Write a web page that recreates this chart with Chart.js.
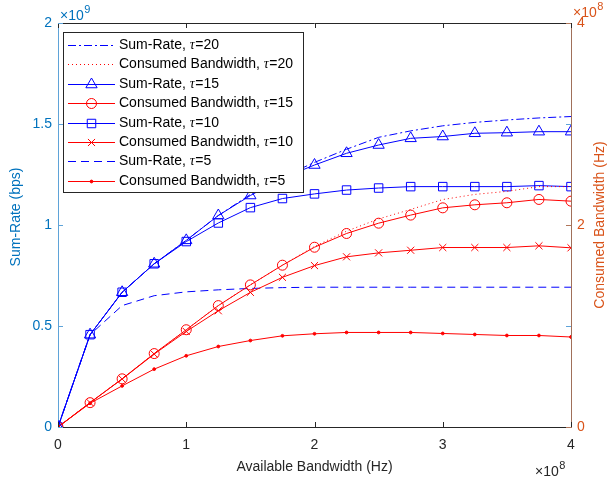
<!DOCTYPE html>
<html>
<head>
<meta charset="utf-8">
<script src="https://cdn.jsdelivr.net/npm/chart.js@4.4.0/dist/chart.umd.min.js"></script>
<style>
  html, body { margin: 0; padding: 0; background: #fff; }
  #c { display: block; }
</style>
</head>
<body>
<canvas id="c" width="611" height="483"></canvas>
<script>
// Available bandwidth in units of 1e8 Hz
const bandwidth = [0, 0.25, 0.5, 0.75, 1, 1.25, 1.5, 1.75, 2, 2.25, 2.5, 2.75, 3, 3.25, 3.5, 3.75, 4];

// Sum-rate in units of 1e9 bps (left axis)
const sumRate20 = [0, 0.457, 0.667, 0.808, 0.924, 1.047, 1.151, 1.237, 1.31, 1.375, 1.434, 1.466, 1.491, 1.508, 1.52, 1.53, 1.537];
const sumRate15 = [0, 0.457, 0.667, 0.808, 0.924, 1.047, 1.146, 1.232, 1.297, 1.355, 1.396, 1.429, 1.438, 1.454, 1.457, 1.462, 1.462];
const sumRate10 = [0, 0.457, 0.667, 0.808, 0.918, 1.01, 1.086, 1.131, 1.154, 1.173, 1.183, 1.19, 1.19, 1.19, 1.19, 1.195, 1.19];
const sumRate5  = [0, 0.457, 0.601, 0.65, 0.669, 0.679, 0.686, 0.69, 0.692, 0.692, 0.692, 0.692, 0.692, 0.692, 0.692, 0.692, 0.692];

// Consumed bandwidth in units of 1e8 Hz (right axis)
const consumed20 = [0, 0.241, 0.477, 0.727, 0.963, 1.202, 1.407, 1.602, 1.788, 1.939, 2.06, 2.154, 2.252, 2.303, 2.333, 2.38, 2.38];
const consumed15 = [0, 0.241, 0.477, 0.727, 0.963, 1.202, 1.407, 1.602, 1.78, 1.916, 2.018, 2.098, 2.17, 2.2, 2.22, 2.253, 2.236];
const consumed10 = [0, 0.241, 0.475, 0.722, 0.946, 1.151, 1.333, 1.482, 1.598, 1.685, 1.724, 1.75, 1.777, 1.777, 1.777, 1.794, 1.774];
const consumed5  = [0, 0.235, 0.407, 0.573, 0.705, 0.797, 0.856, 0.903, 0.923, 0.936, 0.936, 0.936, 0.926, 0.916, 0.906, 0.906, 0.891];

const xTicks = [0, 1, 2, 3, 4];
const leftTicks = [0, 0.5, 1, 1.5, 2];
const rightTicks = [0, 2, 4];

const BLUE = '#0000ff';
const RED = '#ff0000';
const LEFT_C = '#0072BD';
const RIGHT_C = '#D95319';
const FONT = "'Liberation Sans', Arial, Helvetica, sans-serif";

const pts = ys => bandwidth.map((x, i) => ({ x: x, y: ys[i] }));

function series(label, tau, ys, axis, color, dash, marker, radius, fill) {
  return {
    label: label, tau: tau,
    data: pts(ys), yAxisID: axis,
    borderColor: color, borderWidth: 1, borderDash: dash,
    pointStyle: marker || 'circle',
    pointRadius: marker ? radius : 0,
    pointBorderColor: color, pointBorderWidth: 1,
    pointBackgroundColor: fill ? color : 'rgba(0,0,0,0)',
    fill: false, tension: 0
  };
}

const datasets = [
  series('Sum-Rate, ', '20', sumRate20, 'y', BLUE, [8, 3, 2, 3], null, 0),
  series('Consumed Bandwidth, ', '20', consumed20, 'y1', RED, [1, 3], null, 0),
  series('Sum-Rate, ', '15', sumRate15, 'y', BLUE, [], 'triangle', 6.5),
  series('Consumed Bandwidth, ', '15', consumed15, 'y1', RED, [], 'circle', 5),
  series('Sum-Rate, ', '10', sumRate10, 'y', BLUE, [], 'rect', 6),
  series('Consumed Bandwidth, ', '10', consumed10, 'y1', RED, [], 'crossRot', 5),
  series('Sum-Rate, ', '5', sumRate5, 'y', BLUE, [8, 5], null, 0),
  series('Consumed Bandwidth, ', '5', consumed5, 'y1', RED, [], 'circle', 1.4, true)
];

const fmt = v => String(Math.round(v * 100) / 100);

// inner tick marks, box, axis titles, exponents and the legend
const decor = {
  id: 'decor',
  afterDraw(chart) {
    const ctx = chart.ctx;
    const a = chart.chartArea;
    const sx = chart.scales.x, sy = chart.scales.y, sy1 = chart.scales.y1;
    ctx.save();
    ctx.lineWidth = 1;
    // top box edge
    ctx.strokeStyle = '#262626';
    ctx.beginPath(); ctx.moveTo(a.left, a.top + 0.5); ctx.lineTo(a.right, a.top + 0.5); ctx.stroke();
    // x ticks (bottom and top)
    xTicks.forEach(v => {
      const px = Math.round(sx.getPixelForValue(v)) + 0.5;
      ctx.beginPath();
      ctx.moveTo(px, a.bottom); ctx.lineTo(px, a.bottom - 5);
      ctx.moveTo(px, a.top); ctx.lineTo(px, a.top + 5);
      ctx.stroke();
    });
    // left ticks (both sides)
    ctx.strokeStyle = '#5fa3d8';
    leftTicks.forEach(v => {
      const py = Math.round(sy.getPixelForValue(v)) + 0.5;
      ctx.beginPath();
      ctx.moveTo(a.left, py); ctx.lineTo(a.left + 5, py);
      ctx.moveTo(a.right, py); ctx.lineTo(a.right - 5, py);
      ctx.stroke();
    });
    ctx.strokeStyle = '#b0765a';
    rightTicks.forEach(v => {
      const py = Math.round(sy1.getPixelForValue(v)) + 0.5;
      ctx.beginPath();
      ctx.moveTo(a.right, py); ctx.lineTo(a.right - 5, py);
      ctx.stroke();
    });

    // axis titles
    ctx.font = '14px ' + FONT;
    ctx.textAlign = 'center';
    ctx.textBaseline = 'middle';
    ctx.fillStyle = '#262626';
    ctx.fillText('Available Bandwidth (Hz)', (a.left + a.right) / 2, 467);
    ctx.save();
    ctx.translate(16, 217); ctx.rotate(-Math.PI / 2);
    ctx.fillStyle = LEFT_C; ctx.fillText('Sum-Rate (bps)', 0, 0);
    ctx.restore();
    ctx.save();
    ctx.translate(600, 225); ctx.rotate(-Math.PI / 2);
    ctx.fillStyle = RIGHT_C; ctx.fillText('Consumed Bandwidth (Hz)', 0, 0);
    ctx.restore();

    // exponent labels
    function expo(x, y, base, sup, color) {
      ctx.fillStyle = color;
      ctx.textAlign = 'left'; ctx.textBaseline = 'alphabetic';
      ctx.font = '14px ' + FONT;
      ctx.fillText(base, x, y);
      const w = ctx.measureText(base).width;
      ctx.font = '11px ' + FONT;
      ctx.fillText(sup, x + w + 0.5, y - 7);
    }
    expo(60, 20, '\u00d710', '9', LEFT_C);
    expo(573, 17, '\u00d710', '8', RIGHT_C);
    expo(535, 476, '\u00d710', '8', '#262626');

    // legend
    const lx = 63, ly = 32, lw = 240, lh = 160;
    ctx.fillStyle = '#fff';
    ctx.fillRect(lx, ly, lw, lh);
    ctx.strokeStyle = '#262626';
    ctx.strokeRect(lx + 0.5, ly + 0.5, lw, lh);
    chart.data.datasets.forEach((ds, i) => {
      const y = Math.round(ly + 13 + i * 19.4) + 0.5;
      ctx.strokeStyle = ds.borderColor;
      ctx.lineWidth = 1;
      ctx.setLineDash(ds.borderDash || []);
      ctx.beginPath(); ctx.moveTo(68, y); ctx.lineTo(115, y); ctx.stroke();
      ctx.setLineDash([]);
      if (ds.pointRadius > 0) {
        ctx.fillStyle = ds.pointBackgroundColor;
        ctx.strokeStyle = ds.pointBorderColor;
        ctx.lineWidth = 1;
        Chart.helpers.drawPoint(ctx, {
          pointStyle: ds.pointStyle, radius: ds.pointRadius, rotation: 0,
          borderWidth: 1
        }, 91.5, y);
      }
      ctx.fillStyle = '#000';
      ctx.textAlign = 'left'; ctx.textBaseline = 'middle';
      ctx.font = '14px ' + FONT;
      let tx = 119;
      ctx.fillText(ds.label, tx, y);
      tx += ctx.measureText(ds.label).width;
      ctx.font = 'italic 14px "Liberation Serif", serif';
      ctx.fillText('\u03c4', tx, y);
      tx += ctx.measureText('\u03c4').width + 0.5;
      ctx.font = '14px ' + FONT;
      ctx.fillText('=' + ds.tau, tx, y);
    });
    ctx.restore();
  }
};

new Chart(document.getElementById('c'), {
  type: 'line',
  data: { datasets: datasets },
  plugins: [decor],
  options: {
    animation: false,
    responsive: false,
    events: [],
    layout: { padding: { top: 23, left: 0, right: 0, bottom: 0 } },
    plugins: { legend: { display: false }, tooltip: { enabled: false } },
    scales: {
      x: {
        type: 'linear', min: 0, max: 4,
        afterFit: s => { s.height = 56; },
        grid: { display: false, drawTicks: false },
        border: { display: true, color: '#262626', width: 1 },
        ticks: { stepSize: 1, callback: fmt, autoSkip: false, color: '#262626', font: { size: 14, family: FONT }, padding: 10, maxRotation: 0 }
      },
      y: {
        type: 'linear', position: 'left', min: 0, max: 2,
        afterFit: s => { s.width = 58; },
        grid: { display: false, drawTicks: false },
        border: { display: true, color: '#5fa3d8', width: 1 },
        ticks: { stepSize: 0.5, callback: fmt, autoSkip: false, color: LEFT_C, font: { size: 14, family: FONT }, padding: 6 }
      },
      y1: {
        type: 'linear', position: 'right', min: 0, max: 4,
        afterFit: s => { s.width = 40; },
        grid: { display: false, drawTicks: false },
        border: { display: true, color: '#a0705a', width: 1 },
        ticks: { stepSize: 2, callback: fmt, autoSkip: false, color: RIGHT_C, font: { size: 14, family: FONT }, padding: 6 }
      }
    }
  }
});
</script>
</body>
</html>
